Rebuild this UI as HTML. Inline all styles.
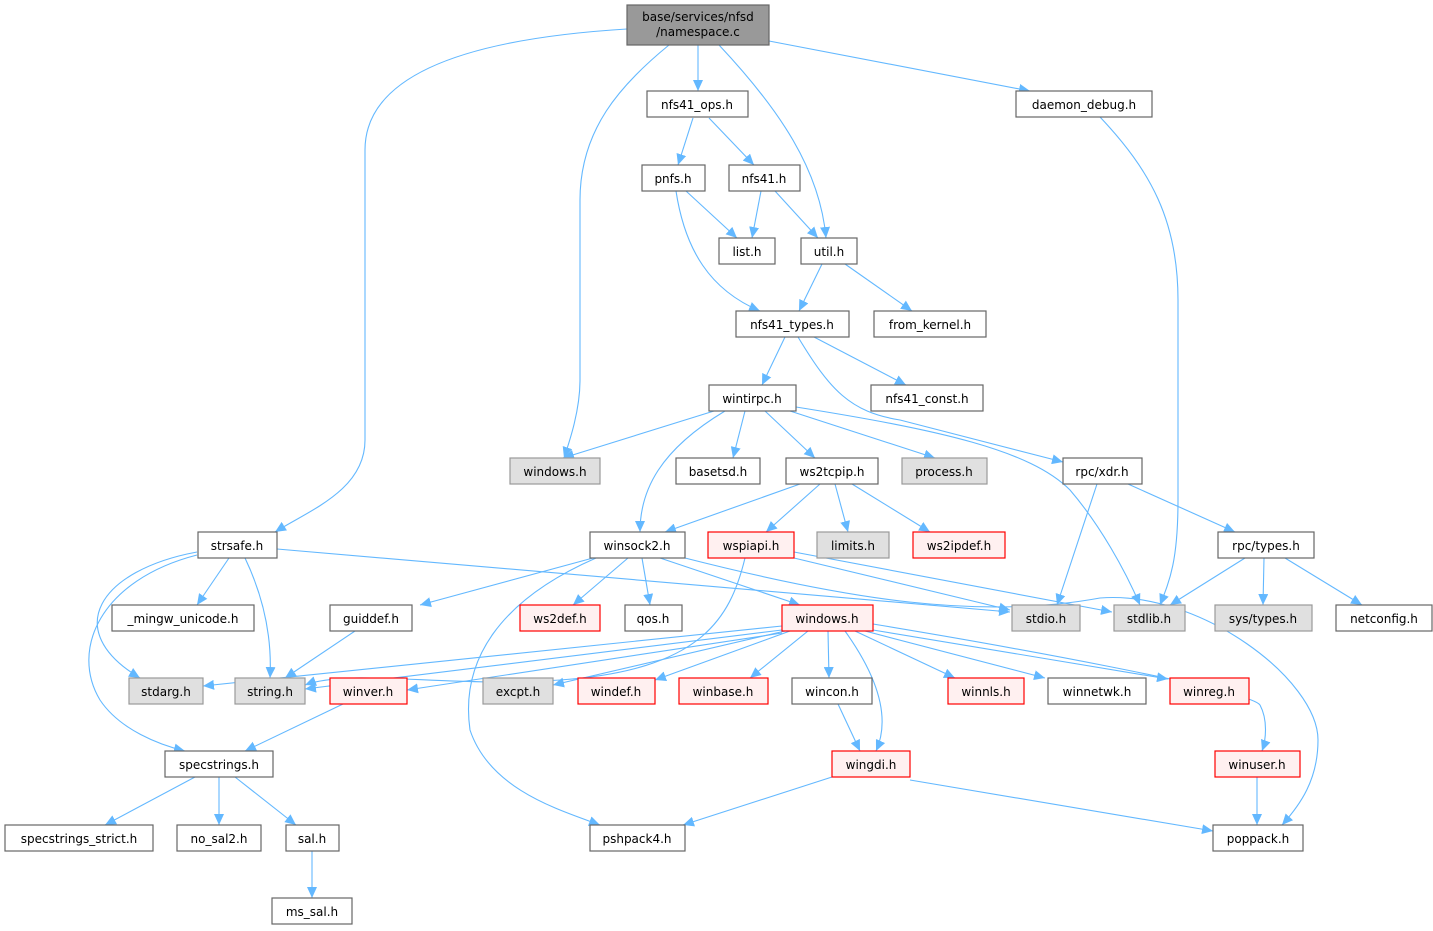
<!DOCTYPE html>
<html><head><meta charset="utf-8"><style>
html,body{margin:0;padding:0;background:#fff;}
svg{display:block;}
text{font-family:"DejaVu Sans","Liberation Sans",sans-serif;font-size:12px;fill:#000;text-anchor:middle;}
.e{fill:none;stroke:#63b8ff;stroke-width:1.1;marker-end:url(#a);}
.n{fill:#fff;stroke:#666;stroke-width:1.2;}
.g{fill:#e0e0e0;stroke:#999;stroke-width:1.2;}
.r{fill:#fff0f0;stroke:#f00;stroke-width:1.2;}
</style></head><body>
<svg width="1433" height="931" viewBox="0 0 1433 931" xmlns="http://www.w3.org/2000/svg">
<defs><marker id="a" markerUnits="userSpaceOnUse" markerWidth="12" markerHeight="10" refX="11" refY="5" orient="auto"><path d="M0,0 L11,5 L0,10 z" fill="#63b8ff"/></marker></defs>
<g>
<path class="e" d="M627,29 C480,38 365,70 365,150 L365,440 C365,490 310,510 275,532"/>
<path class="e" d="M669,45 C620,85 580,130 580,200 L580,380 C580,410 570,440 564,458"/>
<path class="e" d="M698,45 L698,91"/>
<path class="e" d="M719,45 C780,110 820,170 826,238"/>
<path class="e" d="M769,41 L1030,91"/>
<path class="e" d="M693,118 L678,165"/>
<path class="e" d="M709,118 L754,165"/>
<path class="e" d="M686,191 L737,238"/>
<path class="e" d="M676,191 C685,250 710,290 760,311"/>
<path class="e" d="M761,191 L752,238"/>
<path class="e" d="M775,191 L818,238"/>
<path class="e" d="M822,264 L799,311"/>
<path class="e" d="M845,264 L912,311"/>
<path class="e" d="M785,337 L762,385"/>
<path class="e" d="M814,337 L906,385"/>
<path class="e" d="M798,337 C830,390 850,412 900,420 L1063,462"/>
<path class="e" d="M714,411 L563,458"/>
<path class="e" d="M725,411 C660,450 640,490 640,532"/>
<path class="e" d="M745,411 L733,458"/>
<path class="e" d="M765,411 L815,458"/>
<path class="e" d="M790,411 L935,458"/>
<path class="e" d="M796,407 C940,430 1030,450 1070,490 C1100,525 1125,570 1140,605"/>
<path class="e" d="M800,484 L665,532"/>
<path class="e" d="M820,484 L766,532"/>
<path class="e" d="M835,484 L848,532"/>
<path class="e" d="M852,484 L930,532"/>
<path class="e" d="M1097,484 L1057,605"/>
<path class="e" d="M1128,484 L1235,532"/>
<path class="e" d="M1245,558 L1170,605"/>
<path class="e" d="M1264,558 L1263,605"/>
<path class="e" d="M1285,558 L1362,605"/>
<path class="e" d="M1100,117 C1150,170 1178,220 1178,300 L1178,500 C1178,560 1170,580 1160,605"/>
<path class="e" d="M277,549 L1010,612"/>
<path class="e" d="M229,558 L197,605"/>
<path class="e" d="M245,558 C265,600 272,640 270,678"/>
<path class="e" d="M197,552 C100,570 60,630 140,678"/>
<path class="e" d="M197,555 C100,580 70,650 100,700 C120,730 160,745 185,751"/>
<path class="e" d="M593,558 L420,605"/>
<path class="e" d="M628,558 L573,605"/>
<path class="e" d="M642,558 L650,605"/>
<path class="e" d="M660,558 L800,605"/>
<path class="e" d="M596,558 C500,600 460,660 470,730 C490,790 560,810 600,825"/>
<path class="e" d="M685,558 C850,600 980,620 1100,598 C1200,590 1318,680 1318,740 C1318,780 1300,805 1282,825"/>
<path class="e" d="M794,558 L1010,610"/>
<path class="e" d="M794,552 L1112,612"/>
<path class="e" d="M745,558 C730,620 700,670 560,680 C450,688 350,668 305,685"/>
<path class="e" d="M355,631 L285,678"/>
<path class="e" d="M782,626 L203,686"/>
<path class="e" d="M782,630 L305,689"/>
<path class="e" d="M782,633 L407,690"/>
<path class="e" d="M785,631 L553,685"/>
<path class="e" d="M790,631 L655,680"/>
<path class="e" d="M808,631 L750,678"/>
<path class="e" d="M828,631 L829,678"/>
<path class="e" d="M845,631 C880,680 890,720 876,751"/>
<path class="e" d="M855,631 L955,678"/>
<path class="e" d="M865,631 L1045,678"/>
<path class="e" d="M873,630 L1168,679"/>
<path class="e" d="M873,624 C1000,645 1250,690 1260,705 C1268,720 1266,740 1262,751"/>
<path class="e" d="M343,704 L245,751"/>
<path class="e" d="M838,704 L860,751"/>
<path class="e" d="M832,777 L683,825"/>
<path class="e" d="M910,780 L1213,831"/>
<path class="e" d="M1257,777 L1257,825"/>
<path class="e" d="M195,777 L105,825"/>
<path class="e" d="M219,777 L219,825"/>
<path class="e" d="M235,777 L296,825"/>
<path class="e" d="M312,851 L312,898"/>
</g>
<g>
<rect x="627" y="5" width="142" height="40" fill="#999" stroke="#666" stroke-width="1.2"/>
<text x="698" y="21">base/services/nfsd</text><text x="698" y="36">/namespace.c</text>
<rect class="n" x="647" y="91" width="101" height="26"/><text x="697" y="109">nfs41_ops.h</text>
<rect class="n" x="1016" y="91" width="136" height="26"/><text x="1084" y="109">daemon_debug.h</text>
<rect class="n" x="642" y="165" width="63" height="26"/><text x="673" y="183">pnfs.h</text>
<rect class="n" x="729" y="165" width="71" height="26"/><text x="764" y="183">nfs41.h</text>
<rect class="n" x="719" y="238" width="56" height="26"/><text x="747" y="256">list.h</text>
<rect class="n" x="801" y="238" width="56" height="26"/><text x="829" y="256">util.h</text>
<rect class="n" x="736" y="311" width="113" height="26"/><text x="792" y="329">nfs41_types.h</text>
<rect class="n" x="874" y="311" width="112" height="26"/><text x="930" y="329">from_kernel.h</text>
<rect class="n" x="709" y="385" width="87" height="26"/><text x="752" y="403">wintirpc.h</text>
<rect class="n" x="871" y="385" width="112" height="26"/><text x="927" y="403">nfs41_const.h</text>
<rect class="g" x="510" y="458" width="90" height="26"/><text x="555" y="476">windows.h</text>
<rect class="n" x="676" y="458" width="84" height="26"/><text x="718" y="476">basetsd.h</text>
<rect class="n" x="786" y="458" width="92" height="26"/><text x="832" y="476">ws2tcpip.h</text>
<rect class="g" x="902" y="458" width="85" height="26"/><text x="944" y="476">process.h</text>
<rect class="n" x="1063" y="458" width="79" height="26"/><text x="1102" y="476">rpc/xdr.h</text>
<rect class="n" x="198" y="532" width="79" height="26"/><text x="237" y="550">strsafe.h</text>
<rect class="n" x="590" y="532" width="95" height="26"/><text x="637" y="550">winsock2.h</text>
<rect class="r" x="708" y="532" width="86" height="26"/><text x="751" y="550">wspiapi.h</text>
<rect class="g" x="817" y="532" width="72" height="26"/><text x="853" y="550">limits.h</text>
<rect class="r" x="913" y="532" width="92" height="26"/><text x="959" y="550">ws2ipdef.h</text>
<rect class="n" x="1218" y="532" width="96" height="26"/><text x="1266" y="550">rpc/types.h</text>
<rect class="n" x="112" y="605" width="142" height="26"/><text x="183" y="623">_mingw_unicode.h</text>
<rect class="n" x="330" y="605" width="82" height="26"/><text x="371" y="623">guiddef.h</text>
<rect class="r" x="520" y="605" width="80" height="26"/><text x="560" y="623">ws2def.h</text>
<rect class="n" x="625" y="605" width="57" height="26"/><text x="653" y="623">qos.h</text>
<rect class="r" x="782" y="605" width="91" height="26"/><text x="827" y="623">windows.h</text>
<rect class="g" x="1012" y="605" width="68" height="26"/><text x="1046" y="623">stdio.h</text>
<rect class="g" x="1114" y="605" width="71" height="26"/><text x="1149" y="623">stdlib.h</text>
<rect class="g" x="1215" y="605" width="97" height="26"/><text x="1263" y="623">sys/types.h</text>
<rect class="n" x="1336" y="605" width="96" height="26"/><text x="1384" y="623">netconfig.h</text>
<rect class="g" x="129" y="678" width="74" height="26"/><text x="166" y="696">stdarg.h</text>
<rect class="g" x="235" y="678" width="70" height="26"/><text x="270" y="696">string.h</text>
<rect class="r" x="330" y="678" width="77" height="26"/><text x="368" y="696">winver.h</text>
<rect class="g" x="483" y="678" width="70" height="26"/><text x="518" y="696">excpt.h</text>
<rect class="r" x="578" y="678" width="77" height="26"/><text x="616" y="696">windef.h</text>
<rect class="r" x="679" y="678" width="89" height="26"/><text x="723" y="696">winbase.h</text>
<rect class="n" x="792" y="678" width="80" height="26"/><text x="832" y="696">wincon.h</text>
<rect class="r" x="948" y="678" width="76" height="26"/><text x="986" y="696">winnls.h</text>
<rect class="n" x="1048" y="678" width="98" height="26"/><text x="1097" y="696">winnetwk.h</text>
<rect class="r" x="1170" y="678" width="79" height="26"/><text x="1209" y="696">winreg.h</text>
<rect class="n" x="165" y="751" width="108" height="26"/><text x="219" y="769">specstrings.h</text>
<rect class="r" x="832" y="751" width="78" height="26"/><text x="871" y="769">wingdi.h</text>
<rect class="r" x="1215" y="751" width="85" height="26"/><text x="1257" y="769">winuser.h</text>
<rect class="n" x="5" y="825" width="148" height="26"/><text x="79" y="843">specstrings_strict.h</text>
<rect class="n" x="177" y="825" width="84" height="26"/><text x="219" y="843">no_sal2.h</text>
<rect class="n" x="286" y="825" width="53" height="26"/><text x="312" y="843">sal.h</text>
<rect class="n" x="590" y="825" width="95" height="26"/><text x="637" y="843">pshpack4.h</text>
<rect class="n" x="1213" y="825" width="90" height="26"/><text x="1258" y="843">poppack.h</text>
<rect class="n" x="272" y="898" width="80" height="26"/><text x="312" y="916">ms_sal.h</text>
</g>
</svg>
</body></html>
